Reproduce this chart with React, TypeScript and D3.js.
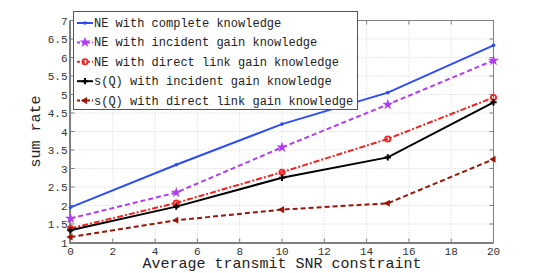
import React from "react";
import * as d3 from "d3";

const snr = [0, 5, 10, 15, 20];
const neComplete = [1.95, 3.1, 4.2, 5.05, 6.33];
const neIncident = [1.65, 2.35, 3.57, 4.73, 5.92];
const neDirect = [1.38, 2.07, 2.9, 3.8, 4.92];
const sqIncident = [1.33, 1.97, 2.75, 3.3, 4.79];
const sqDirect = [1.15, 1.6, 1.89, 2.06, 3.25];
const xTicks = [0, 2, 4, 6, 8, 10, 12, 14, 16, 18, 20];
const yTicks = [1, 1.5, 2, 2.5, 3, 3.5, 4, 4.5, 5, 5.5, 6, 6.5, 7];
const labels = [
  "NE with complete knowledge",
  "NE with incident gain knowledge",
  "NE with direct link gain knowledge",
  "s(Q) with incident gain knowledge",
  "s(Q) with direct link gain knowledge",
];

const series = [
  { values: neComplete, color: "#2e4cf5", dash: "", marker: "dot" },
  { values: neIncident, color: "#b23cf5", dash: "5,3", marker: "star" },
  { values: neDirect, color: "#f52020", dash: "6,2,2,2", marker: "circle" },
  { values: sqIncident, color: "#000000", dash: "", marker: "plus" },
  { values: sqDirect, color: "#9a1608", dash: "5,3", marker: "tri" },
];

const W = 545, H = 273;
const x0 = 70.5, x1 = 493.5, y0 = 242.5, y1 = 20.5;
const fontStyle = { fontFamily: "Liberation Mono, DejaVu Sans Mono, monospace" };

function Marker({ type, cx, cy, color }: { type: string; cx: number; cy: number; color: string }) {
  if (type === "dot") return <circle cx={cx} cy={cy} r={1.8} fill={color} />;
  if (type === "circle") return <circle cx={cx} cy={cy} r={2.6} fill="none" stroke={color} strokeWidth={1.8} />;
  if (type === "star") {
    const p = d3.symbol(d3.symbolStar, 38)();
    return <path d={p || ""} transform={`translate(${cx},${cy})`} fill={color} />;
  }
  if (type === "plus") {
    const p = d3.symbol(d3.symbolCross, 22)();
    return <path d={p || ""} transform={`translate(${cx},${cy}) rotate(0)`} fill={color} />;
  }
  const p = d3.symbol(d3.symbolTriangle, 22)();
  return <path d={p || ""} transform={`translate(${cx},${cy}) rotate(-90)`} fill={color} />;
}

export default function App() {
  const x = d3.scaleLinear().domain([0, 20]).range([x0, x1]);
  const y = d3.scaleLinear().domain([1, 7]).range([y0, y1]);
  const line = d3.line<number>().x((_, i) => x(snr[i])).y((v) => y(v));
  const axisColor = "#7f7f7f";
  return (
    <svg width={W} height={H} style={{ position: "absolute", left: 0, top: 0 }}>
      <rect width={W} height={H} fill="#fff" />
      {xTicks.map((t) => (
        <line key={"gx" + t} x1={x(t)} x2={x(t)} y1={y0} y2={y1} stroke="#d0d0d0" strokeDasharray="1,2" />
      ))}
      {yTicks.map((t) => (
        <line key={"gy" + t} x1={x0} x2={x1} y1={y(t)} y2={y(t)} stroke="#d0d0d0" strokeDasharray="1,2" />
      ))}
      <rect x={x0} y={y1} width={x1 - x0} height={y0 - y1} fill="none" stroke={axisColor} strokeWidth={1} />
      <line x1={x0 - 1} x2={x0 - 1} y1={y1} y2={y0 + 1} stroke={axisColor} strokeWidth={1} />
      <line x1={x0 - 1} x2={x1} y1={y0 + 1} y2={y0 + 1} stroke={axisColor} strokeWidth={1} />
      {xTicks.map((t) => (
        <g key={"tx" + t}>
          <line x1={x(t)} x2={x(t)} y1={y0} y2={y0 - 4} stroke={axisColor} />
          <line x1={x(t)} x2={x(t)} y1={y1} y2={y1 + 4} stroke={axisColor} />
          <text x={x(t)} y={y0 + 12} textAnchor="middle" style={fontStyle} fontSize={11} fill="#333">{t}</text>
        </g>
      ))}
      {yTicks.map((t) => (
        <g key={"ty" + t}>
          <line x1={x0} x2={x0 + 4} y1={y(t)} y2={y(t)} stroke={axisColor} />
          <line x1={x1} x2={x1 - 4} y1={y(t)} y2={y(t)} stroke={axisColor} />
          <text x={x0 - 3} y={y(t) + 4} textAnchor="end" style={fontStyle} fontSize={11} fill="#333">{t}</text>
        </g>
      ))}
      {series.map((s, i) => (
        <g key={"s" + i}>
          <path d={line(s.values) || ""} fill="none" stroke={s.color} strokeWidth={2} strokeDasharray={s.dash} />
          {s.values.map((v, j) => (
            <Marker key={j} type={s.marker} cx={x(snr[j])} cy={y(v)} color={s.color} />
          ))}
        </g>
      ))}
      <rect x={73.5} y={11.5} width={284} height={98} fill="#fff" stroke="#555" strokeWidth={1} />
      {labels.map((l, i) => {
        const ly = 23 + i * 19.4;
        const s = series[i];
        return (
          <g key={"l" + i}>
            <line x1={77} x2={93} y1={ly} y2={ly} stroke={s.color} strokeWidth={2} strokeDasharray={s.dash ? "3,2" : ""} />
            <Marker type={s.marker} cx={85} cy={ly} color={s.color} />
            <text x={94} y={ly + 4} style={fontStyle} fontSize={12} fill="#222">{l}</text>
          </g>
        );
      })}
      <text transform={`translate(40,${(y0 + y1) / 2}) rotate(-90)`} textAnchor="middle" style={fontStyle} fontSize={15} fill="#222">sum rate</text>
      <text x={(x0 + x1) / 2} y={268} textAnchor="middle" style={fontStyle} fontSize={15} fill="#222">Average transmit SNR constraint</text>
    </svg>
  );
}
